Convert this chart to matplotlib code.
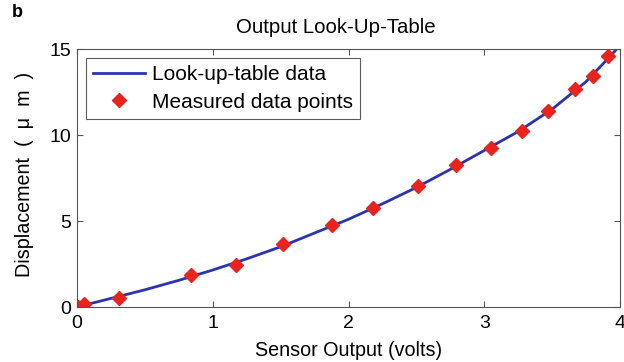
import matplotlib
matplotlib.use("Agg")
import matplotlib.pyplot as plt

plt.rcParams['font.family'] = ['Liberation Sans', 'DejaVu Sans']

# Look-up-table curve
lut_volts = [0.0, 0.25, 0.5, 0.75, 1.0, 1.25, 1.5, 1.75, 2.0, 2.25, 2.5, 2.75,
             3.0, 3.25, 3.5, 3.75, 3.9, 4.0]
lut_disp = [0.0, 0.5, 1.0, 1.55, 2.15, 2.8, 3.5, 4.3, 5.1, 6.0, 6.95, 8.0,
            9.1, 10.2, 11.5, 13.1, 14.35, 15.2]

# Measured data points
meas_volts = [0.01, 0.05, 0.31, 0.84, 1.17, 1.52, 1.88, 2.18, 2.51, 2.79,
              3.05, 3.28, 3.47, 3.67, 3.80, 3.91]
meas_disp = [0.0, 0.15, 0.55, 1.85, 2.45, 3.65, 4.75, 5.75, 7.05, 8.25,
             9.25, 10.25, 11.4, 12.65, 13.45, 14.6]

xticks = [0, 1, 2, 3, 4]
yticks = [0, 5, 10, 15]

fig = plt.figure(figsize=(6.24, 3.62), dpi=100)
# axes: left 77px, right 620px, bottom 307px, top 49px
ax = fig.add_axes([77/624, (362-307)/362, (620-77)/624, (307-49)/362])

ax.plot(lut_volts, lut_disp, color='#2b33b0', lw=2.0, label='Look-up-table data')
ax.plot(meas_volts, meas_disp, ls='none', marker='D', ms=7, color='#e8241f',
        label='Measured data points')

ax.set_xlim(0, 4)
ax.set_ylim(0, 15)
ax.set_xticks(xticks)
ax.set_yticks(yticks)
ax.tick_params(direction='in', top=True, right=True, labelsize=14, length=4,
               color='#555555')
ax.tick_params(axis='x', pad=5.5)
ax.tick_params(axis='y', pad=4)
for s in ax.spines.values():
    s.set_color('#555555')
    s.set_linewidth(0.8)

ax.set_title('Output Look-Up-Table', fontsize=14.7, pad=11.5, x=0.477)
ax.set_xlabel('Sensor Output (volts)', fontsize=14.2, labelpad=7)
ax.set_ylabel('Displacement  (  \u03bc  m  )', fontsize=14.2, labelpad=8)
ax.yaxis.set_label_coords(-0.079, 0.514)

leg = ax.legend(loc='upper left', fontsize=15, frameon=True, fancybox=False,
                edgecolor='#333333', borderpad=0.33, handlelength=2.5,
                handletextpad=0.32, labelspacing=0.41, borderaxespad=0.45)
leg.get_frame().set_linewidth(0.8)

fig.text(12/624, 1 - 4/362, 'b', fontsize=13, fontweight='bold', va='top')

fig.savefig('out.png', dpi=100)
